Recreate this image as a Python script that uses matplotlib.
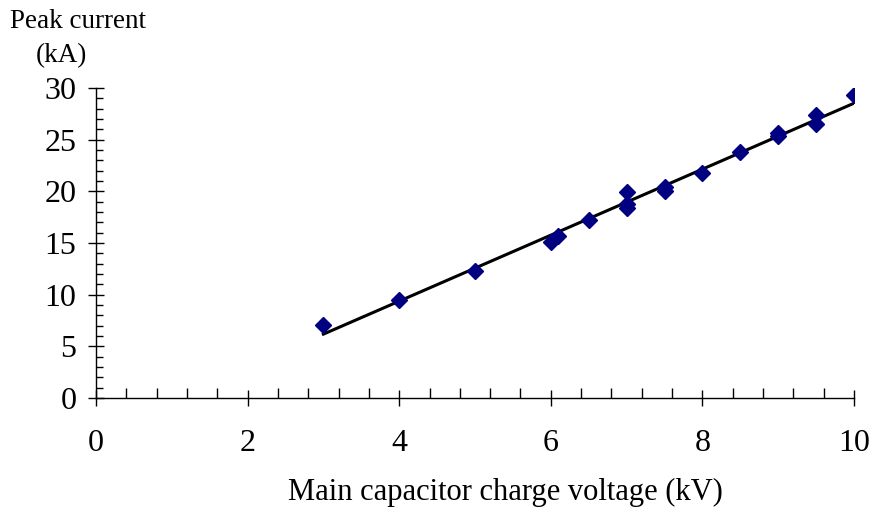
import numpy as np
import matplotlib.pyplot as plt
from matplotlib.ticker import MultipleLocator

# measured points: charge voltage (kV) vs peak current (kA)
voltage = [3, 4, 5, 6, 6.1, 6.5, 7, 7, 7, 7.5, 7.5, 8, 8.5, 9, 9, 9.5, 9.5, 10]
current = [7.1, 9.5, 12.3, 15.1, 15.7, 17.2, 19.9, 18.8, 18.4, 20.4, 20.0, 21.8, 23.8, 25.6, 25.4, 27.4, 26.5, 29.3]

x_ticks = [0, 2, 4, 6, 8, 10]
y_ticks = [0, 5, 10, 15, 20, 25, 30]

plt.rcParams['font.family'] = ['Liberation Serif', 'DejaVu Serif']

fig = plt.figure(figsize=(8.72, 5.14), dpi=100)
ax = fig.add_axes([96 / 872, 1 - 398 / 514, (854 - 96) / 872, (398 - 88) / 514])

# linear trendline over the measured range
k, b = np.polyfit(voltage, current, 1)
fx = np.array([min(voltage), max(voltage)])
ax.plot(fx, k * fx + b, color='black', lw=2.2, zorder=2)

ax.plot(voltage, current, 'D', color='#000080', markersize=8.5, zorder=3)

ax.set_xlim(0, 10)
ax.set_ylim(0, 30)
ax.set_xticks(x_ticks)
ax.set_yticks(y_ticks)
ax.xaxis.set_minor_locator(MultipleLocator(0.4))
ax.yaxis.set_minor_locator(MultipleLocator(1))

for s in ['top', 'right']:
    ax.spines[s].set_visible(False)
for s in ['left', 'bottom']:
    ax.spines[s].set_linewidth(1.0)

ax.tick_params(which='major', direction='inout', length=12, width=1, labelsize=23)
ax.tick_params(which='minor', direction='in', length=5, width=1)
ax.tick_params(axis='x', which='minor', length=7)
ax.tick_params(axis='y', pad=8)
ax.tick_params(axis='x', pad=16)

fig.text(10 / 872, 1 - 22 / 514, 'Peak current', fontsize=19.5, va='center', ha='left')
fig.text(61 / 872, 1 - 56 / 514, '(kA)', fontsize=19.5, va='center', ha='center')
fig.text(505 / 872, 1 - 492 / 514, 'Main capacitor charge voltage (kV)', fontsize=22,
         va='center', ha='center')

fig.savefig('out.png', dpi=100)
